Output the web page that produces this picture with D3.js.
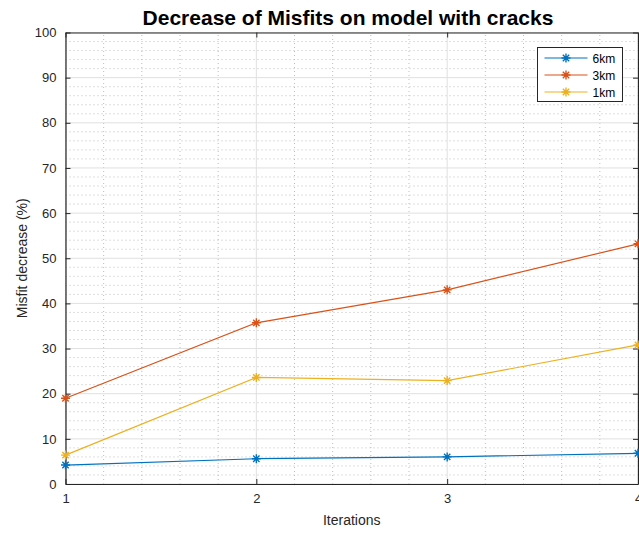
<!DOCTYPE html>
<html>
<head>
<meta charset="utf-8">
<script src="https://cdn.jsdelivr.net/npm/d3@7"></script>
<style>
  body { margin: 0; background: #fff; }
  text { font-family: "Liberation Sans", Arial, Helvetica, sans-serif; }
</style>
</head>
<body>
<div id="chart"></div>
<script>

var iterations = [1, 2, 3, 4];
var labels = ["6km", "3km", "1km"];
var colors = ["#0072BD", "#D95319", "#EDB120"];
var km6 = [4.2, 5.6, 6.0, 6.8];
var km3 = [19.0, 35.7, 43.0, 53.2];
var km1 = [6.4, 23.6, 22.9, 30.8];
var yTicks = [0, 10, 20, 30, 40, 50, 60, 70, 80, 90, 100];

var seriesList = [km6, km3, km1];

var width = 639, height = 534;
var margin = {left: 65.5, right: 1, top: 32.5, bottom: 50};

var svg = d3.select("#chart")
    .append("svg")
    .attr("width", width)
    .attr("height", height);

var x = d3.scaleLinear()
    .domain([1, 4])
    .range([margin.left, width - margin.right]);

var y = d3.scaleLinear()
    .domain([0, 100])
    .range([height - margin.bottom, margin.top]);

var axisColor = "#262626";

// minor grid
var xMinor = d3.range(1, 4.001, 0.2).filter(function(v) { return Math.abs(v - Math.round(v)) > 0.01; });
var yMinor = d3.range(0, 100.001, 2).filter(function(v) { return v % 10 != 0; });

svg.selectAll(".xminor")
    .data(xMinor)
    .enter()
    .append("line")
        .attr("x1", function(d) { return x(d); })
        .attr("x2", function(d) { return x(d); })
        .attr("y1", y(0))
        .attr("y2", y(100))
        .attr("stroke", "#bdbdbd")
        .attr("stroke-width", 1)
        .attr("stroke-dasharray", "1,3");

svg.selectAll(".yminor")
    .data(yMinor)
    .enter()
    .append("line")
        .attr("x1", x(1))
        .attr("x2", x(4))
        .attr("y1", function(d) { return y(d); })
        .attr("y2", function(d) { return y(d); })
        .attr("stroke", "#bdbdbd")
        .attr("stroke-width", 1)
        .attr("stroke-dasharray", "1,3");

// major grid
svg.selectAll(".xgrid")
    .data(iterations)
    .enter()
    .append("line")
        .attr("x1", function(d) { return x(d); })
        .attr("x2", function(d) { return x(d); })
        .attr("y1", y(0))
        .attr("y2", y(100))
        .attr("stroke", "#e0e0e0")
        .attr("stroke-width", 1);

svg.selectAll(".ygrid")
    .data(yTicks)
    .enter()
    .append("line")
        .attr("x1", x(1))
        .attr("x2", x(4))
        .attr("y1", function(d) { return y(d); })
        .attr("y2", function(d) { return y(d); })
        .attr("stroke", "#e0e0e0")
        .attr("stroke-width", 1);

// axes (ticks point inward like matlab)
var xAxis = svg.append("g")
    .attr("transform", "translate(0," + y(0) + ")")
    .call(d3.axisBottom(x).tickValues(iterations).tickFormat(d3.format("d")).tickSizeInner(-5).tickSizeOuter(0).tickPadding(10));

var xAxisTop = svg.append("g")
    .attr("transform", "translate(0," + y(100) + ")")
    .call(d3.axisTop(x).tickValues(iterations).tickFormat("").tickSizeInner(-5).tickSizeOuter(0));

var yAxis = svg.append("g")
    .attr("transform", "translate(" + x(1) + ",0)")
    .call(d3.axisLeft(y).tickValues(yTicks).tickSizeInner(-5).tickSizeOuter(0).tickPadding(9));

var yAxisRight = svg.append("g")
    .attr("transform", "translate(" + x(4) + ",0)")
    .call(d3.axisRight(y).tickValues(yTicks).tickFormat("").tickSizeInner(-5).tickSizeOuter(0));

[xAxis, xAxisTop, yAxis, yAxisRight].forEach(function(g) {
    g.selectAll("path").attr("stroke", axisColor).attr("stroke-width", 1.2);
    g.selectAll("line").attr("stroke", axisColor);
    g.selectAll("text")
        .attr("fill", axisColor)
        .style("font-family", "Liberation Sans, Arial, sans-serif")
        .style("font-size", "13px");
});

// lines and markers
var line = d3.line()
    .x(function(d, i) { return x(iterations[i]); })
    .y(function(d) { return y(d); });

function asterisk(s) {
    var d = s * 0.707;
    return "M" + (-s) + ",0L" + s + ",0M0," + (-s) + "L0," + s +
        "M" + (-d) + "," + (-d) + "L" + d + "," + d +
        "M" + (-d) + "," + d + "L" + d + "," + (-d);
}

seriesList.forEach(function(vals, k) {
    svg.append("path")
        .datum(vals)
        .attr("fill", "none")
        .attr("stroke", colors[k])
        .attr("stroke-width", 1.2)
        .attr("d", line);

    svg.selectAll(".m" + k)
        .data(vals)
        .enter()
        .append("path")
            .attr("transform", function(d, i) { return "translate(" + x(iterations[i]) + "," + y(d) + ")"; })
            .attr("d", asterisk(4.5))
            .attr("stroke", colors[k])
            .attr("stroke-width", 1.4)
            .attr("fill", "none");
});

// legend
var legend = svg.append("g").attr("transform", "translate(537.5,47.5)");

legend.append("rect")
    .attr("width", 85)
    .attr("height", 54)
    .attr("fill", "#fff")
    .attr("stroke", axisColor)
    .attr("stroke-width", 1);

labels.forEach(function(lab, k) {
    var ly = 10.5 + k * 17;
    legend.append("line")
        .attr("x1", 7)
        .attr("x2", 50)
        .attr("y1", ly)
        .attr("y2", ly)
        .attr("stroke", colors[k])
        .attr("stroke-width", 1.2);
    legend.append("path")
        .attr("transform", "translate(28.5," + ly + ")")
        .attr("d", asterisk(4.5))
        .attr("stroke", colors[k])
        .attr("stroke-width", 1.4)
        .attr("fill", "none");
    legend.append("text")
        .attr("x", 55)
        .attr("y", ly + 4.5)
        .attr("fill", "#000")
        .style("font-size", "12px")
        .text(lab);
});

// title and labels
svg.append("text")
    .attr("x", 348)
    .attr("y", 25)
    .attr("text-anchor", "middle")
    .style("font-size", "21px")
    .style("font-weight", "bold")
    .attr("fill", "#000")
    .text("Decrease of Misfits on model with cracks");

svg.append("text")
    .attr("x", (x(1) + x(4)) / 2)
    .attr("y", 525)
    .attr("text-anchor", "middle")
    .style("font-size", "14px")
    .attr("fill", axisColor)
    .text("Iterations");

svg.append("text")
    .attr("transform", "translate(27," + (y(0) + y(100)) / 2 + ") rotate(-90)")
    .attr("text-anchor", "middle")
    .style("font-size", "14px")
    .attr("fill", axisColor)
    .text("Misfit decrease (%)");

</script>
</body>
</html>
